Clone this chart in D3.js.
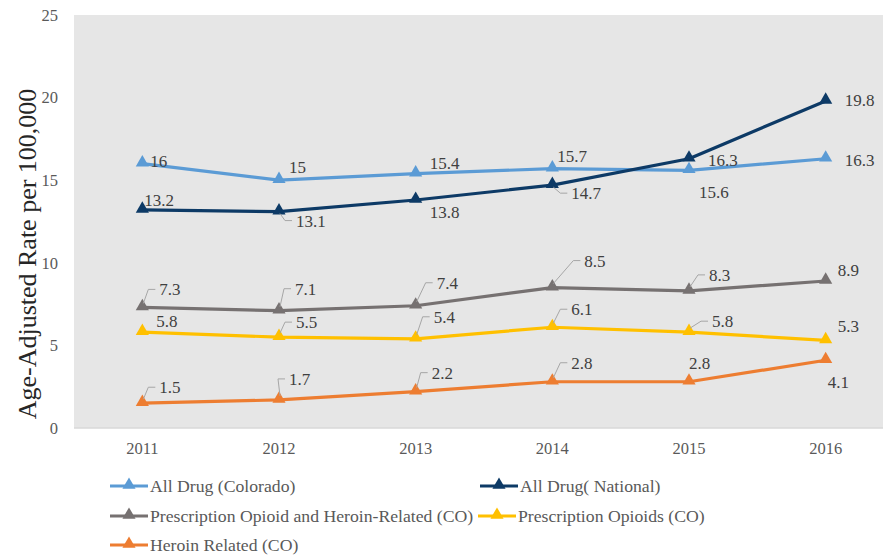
<!DOCTYPE html>
<html><head><meta charset="utf-8">
<script src="https://cdn.jsdelivr.net/npm/d3@7"></script>
<style>body{margin:0;background:#fff}svg{display:block}text{font-family:"Liberation Serif","DejaVu Serif",serif}</style>
</head><body><svg id="c" width="883" height="556"></svg>
<script>
const years = ["2011","2012","2013","2014","2015","2016"];
const yTicks = [0,5,10,15,20,25];
const allDrugCO = [16,15,15.4,15.7,15.6,16.3];
const allDrugNat = [13.2,13.1,13.8,14.7,16.3,19.8];
const opioidHeroin = [7.3,7.1,7.4,8.5,8.3,8.9];
const rxOpioids = [5.8,5.5,5.4,6.1,5.8,5.3];
const heroin = [1.5,1.7,2.2,2.8,2.8,4.1];
const seriesNames = ["All Drug (Colorado)","All Drug( National)","Prescription Opioid and Heroin-Related (CO)","Prescription Opioids (CO)","Heroin Related (CO)"];
const yTitle = "Age-Adjusted Rate per 100,000";

const series = [
  {name:seriesNames[0], values:allDrugCO, color:"#5B9BD5"},
  {name:seriesNames[1], values:allDrugNat, color:"#0D3A66"},
  {name:seriesNames[2], values:opioidHeroin, color:"#767171"},
  {name:seriesNames[3], values:rxOpioids, color:"#FFC000"},
  {name:seriesNames[4], values:heroin, color:"#ED7D31"}
];
// label layout: [dx (label start), dy (label middle), leader?]
const labelLayout = [
  [[8,-3,0],[10,-13,0],[14,-11,0],[5,-13,0],[10,22,0],[19,1,0]],
  [[2,-10,0],[17,9,1],[14,12,0],[19,8,1],[19,1,0],[19,-1,0]],
  [[17,-18,1],[16,-22,1],[21,-23,1],[32,-27,1],[20,-16,1],[12,-11,0]],
  [[14,-11,0],[17,-15,1],[18,-22,1],[19,-18,1],[23,-11,1],[12,-14,0]],
  [[17,-16,1],[10,-21,1],[16,-19,1],[19,-19,1],[0,-19,0],[2,22,0]]
];

const svg = d3.select("#c");
const plot = {left:74, top:15, right:883, bottom:428};
const x = d3.scaleBand().domain(years).range([74, 894]);
const cx = d => x(d) + x.bandwidth()/2;
const y = d3.scaleLinear().domain([0,25]).range([plot.bottom, plot.top]);

svg.append("rect").attr("x",plot.left).attr("y",plot.top)
  .attr("width",plot.right-plot.left).attr("height",plot.bottom-plot.top).attr("fill","#E6E6E6");

const yAxis = svg.append("g").attr("transform",`translate(${plot.left},0)`)
  .call(d3.axisLeft(y).tickValues(yTicks).tickSize(0).tickPadding(16));
yAxis.select(".domain").remove();
yAxis.selectAll("text").attr("fill","#595959").style("font-size","16.5px");

const xAxis = svg.append("g").attr("transform",`translate(0,${plot.bottom})`)
  .call(d3.axisBottom(x).tickSize(0).tickPadding(14));
xAxis.select(".domain").attr("stroke","#D9D9D9").attr("stroke-width",1.5)
  .attr("d",`M${plot.left},0H${plot.right}`);
xAxis.selectAll("text").attr("fill","#595959").style("font-size","16.5px");

svg.append("text").attr("transform",`translate(36,254) rotate(-90)`)
  .attr("text-anchor","middle").attr("fill","#262626").style("font-size","26px").text(yTitle);

const line = d3.line().x((d,i)=>cx(years[i])).y(d=>y(d));
const tri = d3.symbol().type(d3.symbolTriangle).size(75);

series.forEach((s,si)=>{
  const g = svg.append("g");
  g.append("path").attr("d",line(s.values)).attr("fill","none")
    .attr("stroke",s.color).attr("stroke-width",3.2).attr("stroke-linejoin","round");
  g.selectAll("path.m").data(s.values).join("path").attr("class","m")
    .attr("d",tri).attr("fill",s.color)
    .attr("transform",(d,i)=>`translate(${cx(years[i])},${y(d)-1})`);
});
series.forEach((s,si)=>{
  const g = svg.append("g");
  s.values.forEach((v,i)=>{
    const px = cx(years[i]), py = y(v);
    const [dx,dy,lead] = labelLayout[si][i];
    const lx = px+dx, ly = py+dy;
    if(lead){
      const ex = lx-4;
      const sy = dy<0 ? py-4 : py+2;
      g.append("path").attr("d",`M${px+1},${sy}L${ex-7},${ly}H${ex}`)
        .attr("fill","none").attr("stroke","#A6A6A6").attr("stroke-width",1);
    }
    g.append("text").attr("x",lx).attr("y",ly).attr("dy","0.35em")
      .attr("fill","#404040").style("font-size","17px").text(String(v));
  });
});

const legendPos = [[110,486],[480,486],[110,516],[478,516],[110,545]];
series.forEach((s,i)=>{
  const [lx,ly] = legendPos[i];
  const g = svg.append("g").attr("transform",`translate(${lx},${ly})`);
  g.append("line").attr("x1",0).attr("x2",38).attr("stroke",s.color).attr("stroke-width",3.2);
  g.append("path").attr("d",tri).attr("fill",s.color).attr("transform","translate(19,-1)");
  g.append("text").attr("x",40).attr("dy","0.35em").attr("fill","#595959").style("font-size","17.7px").text(s.name);
});
</script></body></html>
